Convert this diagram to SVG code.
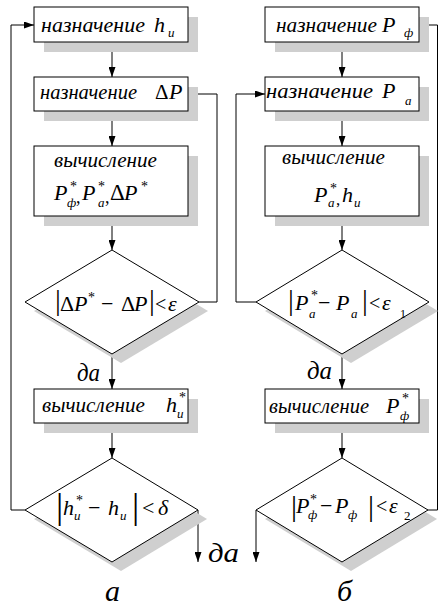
<svg xmlns="http://www.w3.org/2000/svg" width="439" height="606" viewBox="0 0 439 606">
<defs>
<style>
.box{fill:#fff;stroke:#000;stroke-width:1}
.sh{fill:#cfcfcf;stroke:none}
.ln{fill:none;stroke:#000;stroke-width:1}
.f{font-family:"Liberation Serif",serif}
.w{font-family:"Liberation Serif",serif;font-style:italic;font-size:21px}
.M{font-family:"Liberation Serif",serif;font-style:italic;font-size:22px}
.u{font-family:"Liberation Serif",serif;font-size:22px}
.s{font-family:"Liberation Serif",serif;font-style:italic;font-size:13px}
.st{font-family:"Liberation Serif",serif;font-size:14px}
.lab{font-family:"Liberation Serif",serif;font-style:italic}
</style>
<marker id="ah" markerWidth="10" markerHeight="7" refX="10" refY="3.5" orient="auto" markerUnits="userSpaceOnUse">
<path d="M0,0 L10,3.5 L0,7 z" fill="#000"/>
</marker>
</defs>
<rect width="439" height="606" fill="#fff"/>

<g id="connectors">
<path class="ln" d="M112,42 V77" marker-end="url(#ah)"/>
<path class="ln" d="M112,111 V146" marker-end="url(#ah)"/>
<path class="ln" d="M112,216 V250" marker-end="url(#ah)"/>
<path class="ln" d="M112,354 V389" marker-end="url(#ah)"/>
<path class="ln" d="M112,423 V458" marker-end="url(#ah)"/>
<path class="ln" d="M199,302 H217 V94 H188" marker-end="url(#ah)"/>
<path class="ln" d="M25,510 H11 V25 H34" marker-end="url(#ah)"/>
<path class="ln" d="M198,510 V562" marker-end="url(#ah)"/>
<path class="ln" d="M342,42 V77" marker-end="url(#ah)"/>
<path class="ln" d="M342,111 V146" marker-end="url(#ah)"/>
<path class="ln" d="M342,216 V250" marker-end="url(#ah)"/>
<path class="ln" d="M342,354 V389" marker-end="url(#ah)"/>
<path class="ln" d="M342,423 V458" marker-end="url(#ah)"/>
<path class="ln" d="M256,302 H236 V94 H265" marker-end="url(#ah)"/>
<path class="ln" d="M428,510 H437.5 V25 H419" marker-end="url(#ah)"/>
<path class="ln" d="M256,510 V562" marker-end="url(#ah)"/>
</g>

<g id="a1">
<rect class="sh" x="44" y="17" width="154" height="35"/>
<rect class="box" x="34" y="7" width="154" height="35"/>
<text class="w" x="41" y="32" textLength="104" lengthAdjust="spacingAndGlyphs">назначение</text>
<text class="M" x="154" y="32">h</text><text class="s" x="168" y="37">и</text>
</g>

<g id="a2">
<rect class="sh" x="44" y="87" width="154" height="34"/>
<rect class="box" x="34" y="77" width="154" height="34"/>
<text class="w" font-size="20" x="40" y="99" textLength="97" lengthAdjust="spacingAndGlyphs">назначение</text>
<text class="f" font-size="21" x="155" y="99">Δ</text><text class="M" font-size="23" x="169" y="99">P</text>
</g>

<g id="a3">
<rect class="sh" x="44" y="156" width="154" height="70"/>
<rect class="box" x="34" y="146" width="154" height="70"/>
<text class="w" x="54" y="167" textLength="103" lengthAdjust="spacingAndGlyphs">вычисление</text>
<text class="M" font-size="23" x="54" y="200">P</text><text class="st" x="70" y="191">*</text><text class="s" x="67" y="207">ф</text><text class="f" font-size="18" x="76" y="203">,</text>
<text class="M" font-size="23" x="82" y="200">P</text><text class="st" x="98" y="191">*</text><text class="s" x="98" y="207">а</text><text class="f" font-size="18" x="105" y="203">,</text>
<text class="f" font-size="23" x="110" y="200">Δ</text><text class="M" font-size="23" x="124" y="200">P</text><text class="st" x="141" y="191">*</text>
</g>

<g id="a4">
<polygon class="sh" points="121,259 208,311 121,363 34,311"/>
<polygon class="box" points="112,250 199,302 112,354 25,302"/>
<text class="f" font-size="29" x="55" y="310">|</text>
<text class="f" font-size="22" x="60" y="311">Δ</text><text class="M" x="74" y="311">P</text><text class="st" x="88" y="302">*</text>
<text class="u" x="101" y="311">−</text>
<text class="f" font-size="22" x="121" y="311">Δ</text><text class="M" x="134" y="311">P</text>
<text class="f" font-size="29" x="149" y="310">|</text>
<text class="f" font-size="20" x="155" y="311">&lt;</text>
<text class="M" x="168" y="311">ε</text>
</g>

<g id="a5">
<rect class="sh" x="44" y="399" width="154" height="34"/>
<rect class="box" x="34" y="389" width="154" height="34"/>
<text class="w" x="42" y="412" textLength="103" lengthAdjust="spacingAndGlyphs">вычисление</text>
<text class="M" font-size="21" x="166" y="412">h</text><text class="st" x="179" y="402">*</text><text class="s" x="177" y="418">и</text>
</g>

<g id="a6">
<polygon class="sh" points="121,467 207,519 121,571 34,519"/>
<polygon class="box" points="112,458 198,510 112,562 25,510"/>
<text class="f" font-size="36" x="56" y="518">|</text>
<text class="M" x="63" y="515">h</text><text class="st" x="76" y="505">*</text><text class="s" x="74" y="520">и</text>
<text class="u" x="88" y="515">−</text>
<text class="M" x="108" y="515">h</text><text class="s" x="120" y="520">и</text>
<text class="f" font-size="36" x="132" y="518">|</text>
<text class="u" x="142" y="515">&lt;</text>
<text class="M" font-size="24" x="158" y="515">δ</text>
</g>

<g id="b1">
<rect class="sh" x="275" y="17" width="154" height="35"/>
<rect class="box" x="265" y="7" width="154" height="35"/>
<text class="w" x="276" y="32" textLength="101" lengthAdjust="spacingAndGlyphs">назначение</text>
<text class="M" x="382" y="32">P</text><text class="s" x="404" y="37">ф</text>
</g>

<g id="b2">
<rect class="sh" x="275" y="87" width="154" height="34"/>
<rect class="box" x="265" y="77" width="154" height="34"/>
<text class="w" font-size="22" x="266" y="98" textLength="107" lengthAdjust="spacingAndGlyphs">назначение</text>
<text class="M" x="382" y="98">P</text><text class="s" x="405" y="105">а</text>
</g>

<g id="b3">
<rect class="sh" x="275" y="156" width="154" height="70"/>
<rect class="box" x="265" y="146" width="154" height="70"/>
<text class="w" x="282" y="164" textLength="103" lengthAdjust="spacingAndGlyphs">вычисление</text>
<text class="M" x="314" y="202">P</text><text class="st" x="330" y="193">*</text><text class="s" x="328" y="207">а</text><text class="f" font-size="17" x="336" y="205">,</text>
<text class="M" x="342" y="202">h</text><text class="s" x="354" y="207">и</text>
</g>

<g id="b4">
<polygon class="sh" points="351,259 438,311 351,363 265,311"/>
<polygon class="box" points="342,250 429,302 342,354 256,302"/>
<text class="f" font-size="29" x="288" y="310">|</text>
<text class="M" x="295" y="310">P</text><text class="st" x="311" y="300">*</text><text class="s" x="309" y="318">а</text>
<text class="u" x="318" y="310">−</text>
<text class="M" x="336" y="310">P</text><text class="s" x="351" y="318">а</text>
<text class="f" font-size="29" x="362" y="310">|</text>
<text class="f" font-size="20" x="369" y="310">&lt;</text>
<text class="M" x="382" y="310">ε</text><text class="f" font-size="12" x="400" y="318">1</text>
</g>

<g id="b5">
<rect class="sh" x="275" y="399" width="154" height="34"/>
<rect class="box" x="265" y="389" width="154" height="34"/>
<text class="w" font-size="20" x="269" y="413" textLength="100" lengthAdjust="spacingAndGlyphs">вычисление</text>
<text class="M" x="386" y="413">P</text><text class="st" x="402" y="403">*</text><text class="s" x="400" y="420">ф</text>
</g>

<g id="b6">
<polygon class="sh" points="351,467 437,519 351,571 265,519"/>
<polygon class="box" points="342,458 428,510 342,562 256,510"/>
<text class="f" font-size="30" x="291" y="516">|</text>
<text class="M" x="296" y="513">P</text><text class="st" x="310" y="504">*</text><text class="s" x="308" y="519">ф</text>
<text class="u" x="320" y="513">−</text>
<text class="M" x="335" y="513">P</text><text class="s" x="348" y="519">ф</text>
<text class="f" font-size="30" x="368" y="516">|</text>
<text class="f" font-size="20" x="376" y="513">&lt;</text>
<text class="M" x="389" y="513">ε</text><text class="f" font-size="13" x="404" y="520">2</text>
</g>

<g id="labels">
<text class="lab" font-size="26" x="77" y="381" textLength="23" lengthAdjust="spacingAndGlyphs">да</text>
<text class="lab" font-size="26" x="307" y="379" textLength="25" lengthAdjust="spacingAndGlyphs">да</text>
<text class="lab" font-size="28" x="208" y="562" textLength="31" lengthAdjust="spacingAndGlyphs">да</text>
<text class="lab" font-size="30" x="105" y="601">а</text>
<text class="lab" font-size="30" x="337" y="601">б</text>
</g>
</svg>
